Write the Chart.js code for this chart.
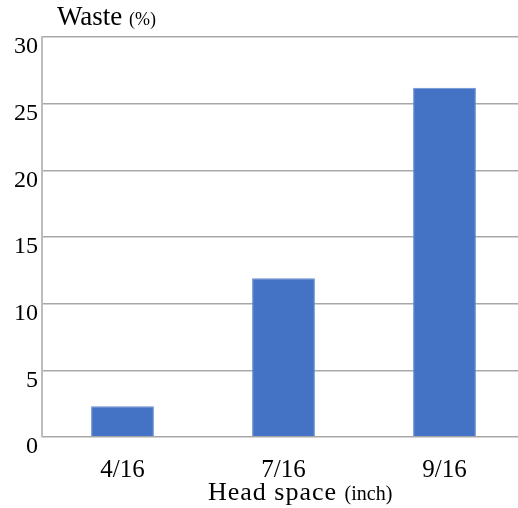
<!DOCTYPE html>
<html>
<head>
<meta charset="utf-8">
<script src="https://cdn.jsdelivr.net/npm/chart.js@4"></script>
<style>
  html, body { margin: 0; padding: 0; background: #fff; overflow: hidden; }
  #wrap { width: 525px; height: 508px; }
</style>
</head>
<body>
<div id="wrap"><canvas id="c" width="525" height="508"></canvas></div>
<script>
// Waste percentage by head space
const categories = ['4/16', '7/16', '9/16'];
const wasteValues = [2.3, 11.9, 26.2];
const yTicks = [0, 5, 10, 15, 20, 25, 30];

const SERIF = '"Liberation Serif", "Times New Roman", serif';

// Axis titles with a smaller unit part, e.g. "Waste (%)"
const axisTitles = {
  id: 'axisTitles',
  afterDraw(chart) {
    const ctx = chart.ctx;
    const area = chart.chartArea;
    ctx.save();
    ctx.fillStyle = '#000';
    ctx.textBaseline = 'alphabetic';
    ctx.textAlign = 'left';

    // y title, above the plot
    ctx.font = '27px ' + SERIF;
    const yMain = 'Waste ';
    let x = area.left + 15;
    ctx.fillText(yMain, x, 25);
    x += ctx.measureText(yMain).width;
    ctx.font = '18px ' + SERIF;
    ctx.fillText('(%)', x, 25);

    // x title, below the tick labels
    ctx.font = '26px ' + SERIF;
    ctx.letterSpacing = '1px';
    const xMain = 'Head space ';
    const w1 = ctx.measureText(xMain).width;
    ctx.fillText(xMain, 208, 500);
    ctx.letterSpacing = '0px';
    ctx.font = '20px ' + SERIF;
    ctx.fillText('(inch)', 208 + w1, 500);
    ctx.restore();
  }
};

new Chart(document.getElementById('c'), {
  type: 'bar',
  data: {
    labels: categories,
    datasets: [{
      data: wasteValues,
      backgroundColor: '#4472c4',
      borderColor: '#6a8fd3',
      borderWidth: 1,
      barPercentage: 0.39,
      categoryPercentage: 1
    }]
  },
  options: {
    responsive: false,
    animation: false,
    devicePixelRatio: 1,
    layout: { padding: { top: 37, right: 0, left: 0, bottom: 0 } },
    plugins: {
      legend: { display: false },
      tooltip: { enabled: false }
    },
    scales: {
      x: {
        grid: { display: false, drawTicks: false },
        border: { display: false },
        ticks: {
          color: '#000',
          font: { family: SERIF, size: 25 },
          padding: 18,
          maxRotation: 0
        },
        afterFit(scale) { scale.height = 71; }
      },
      y: {
        min: 0,
        max: 30,
        afterBuildTicks(scale) { scale.ticks = yTicks.map(v => ({ value: v })); },
        grid: {
          color: '#a8a8a8',
          lineWidth: 1.5,
          drawTicks: false
        },
        border: { display: true, color: '#bdbdbd', width: 2 },
        ticks: {
          color: '#000',
          font: { family: SERIF, size: 24 },
          padding: 4,
          labelOffset: 10
        },
        afterFit(scale) { scale.width = 42; }
      }
    }
  },
  plugins: [axisTitles]
});
</script>
</body>
</html>
